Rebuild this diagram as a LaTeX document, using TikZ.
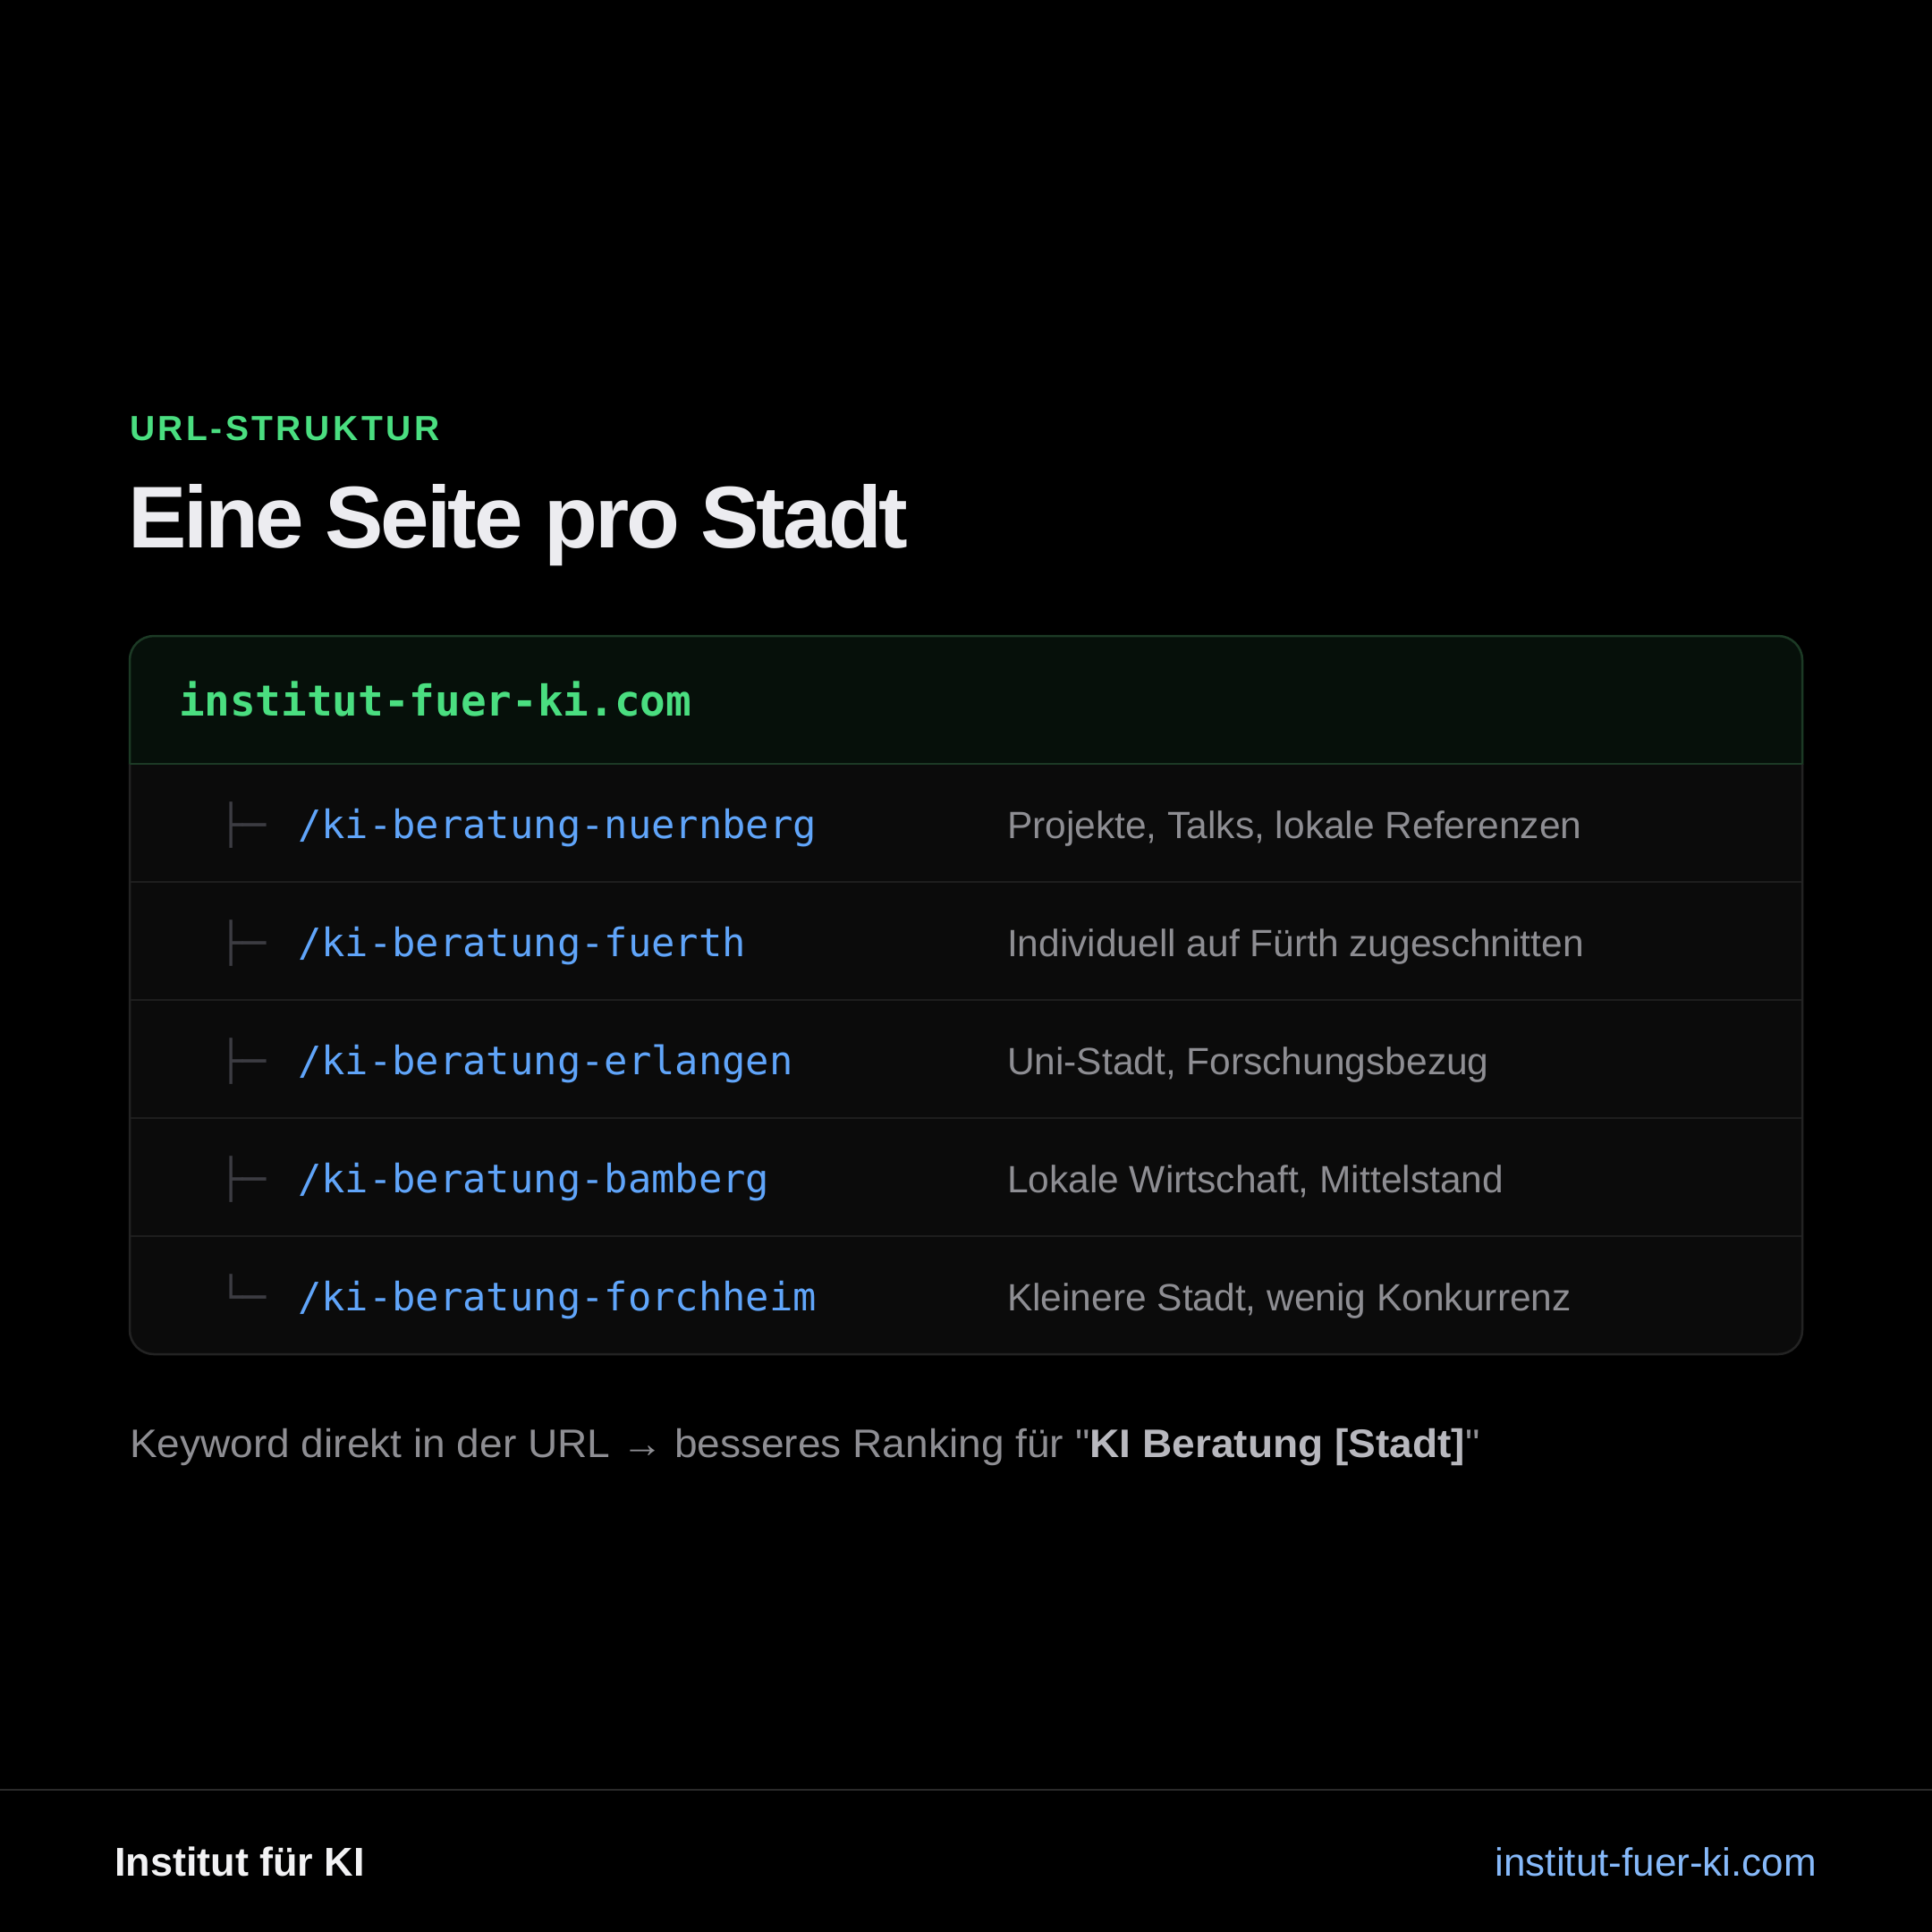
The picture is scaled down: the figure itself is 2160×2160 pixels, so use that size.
\documentclass[tikz,border=0pt]{standalone}
\usepackage{fontspec}
\setmainfont{Liberation Sans}
\newfontfamily\sansf{Liberation Sans}
\newfontfamily\notef[FakeStretch=1.035]{Liberation Sans}
\newfontfamily\monof{DejaVu Sans Mono}
\newfontfamily\titlef[LetterSpace=-3.4]{Liberation Sans}
\newfontfamily\kickerf[LetterSpace=9]{Liberation Sans}
\definecolor{pagebg}{HTML}{000000}
\definecolor{bodybg}{HTML}{0B0B0B}
\definecolor{headbg}{HTML}{06100A}
\definecolor{headborder}{HTML}{1C3A25}
\definecolor{bodyborder}{HTML}{232323}
\definecolor{rowline}{HTML}{1E1E1E}
\definecolor{kicker}{HTML}{4ADE80}
\definecolor{titlec}{HTML}{ECECF0}
\definecolor{urlblue}{HTML}{60A5FA}
\definecolor{treegray}{HTML}{3C3C42}
\definecolor{descgray}{HTML}{8E8E93}
\definecolor{notegray}{HTML}{8E8E93}
\definecolor{notebold}{HTML}{B8B8BE}
\definecolor{footwhite}{HTML}{F2F2F4}
\definecolor{footblue}{HTML}{86B9FA}
\definecolor{footline}{HTML}{2A2A2A}
\tikzset{
  txt/.style={inner sep=0pt, outer sep=0pt, anchor=base west},
  urltxt/.style={txt, text=urlblue, font=\monof\fontsize{43.8pt}{50pt}\selectfont},
  treetxt/.style={txt, text=treegray, font=\monof\fontsize{43.5pt}{50pt}\selectfont},
  desctxt/.style={txt, text=descgray, font=\sansf\fontsize{42.5pt}{50pt}\selectfont},
  rowsep/.style={draw=rowline, line width=2pt},
}
\begin{document}
\begin{tikzpicture}[x=1pt,y=-1pt]
\fill[pagebg] (0,0) rectangle (2160,2160);
\useasboundingbox (0,0) rectangle (2160,2160);
% kicker and title
\node[txt, text=kicker, font=\kickerf\bfseries\fontsize{39pt}{46pt}\selectfont] (kicker) at (145,492) {URL-STRUKTUR};
\node[txt, text=titlec, font=\titlef\bfseries\fontsize{98pt}{110pt}\selectfont] (title) at (143,612) {Eine Seite pro Stadt};
% box body
\fill[bodybg, rounded corners=27pt] (145,711) rectangle (2015,1514);
\begin{scope}
  \clip (100,700) rectangle (2060,854);
  \fill[headbg, rounded corners=27pt] (145,711) rectangle (2015,1514);
  \draw[headborder, line width=2.5pt, rounded corners=27pt] (145,711) rectangle (2015,1514);
\end{scope}
\begin{scope}
  \clip (100,854) rectangle (2060,1540);
  \draw[bodyborder, line width=2.5pt, rounded corners=27pt] (145,711) rectangle (2015,1514);
\end{scope}
\draw[headborder, line width=2.5pt] (145,854) -- (2015,854);
\foreach \yy in {986,1118,1250,1382} \draw[rowsep] (146,\yy) -- (2014,\yy);
% header domain
\node[txt, text=kicker, font=\monof\bfseries\fontsize{47.6pt}{54pt}\selectfont] (domain) at (200,800) {institut-fuer-ki.com};
% rows
\node[treetxt] (t1) at (245,937) {├─};
\node[urltxt] (u1) at (333,937) {/ki-beratung-nuernberg};
\node[desctxt] (d1) at (1126,937) {Projekte, Talks, lokale Referenzen};
\node[treetxt] (t2) at (245,1069) {├─};
\node[urltxt] (u2) at (333,1069) {/ki-beratung-fuerth};
\node[desctxt] (d2) at (1126,1069) {Individuell auf Fürth zugeschnitten};
\node[treetxt] (t3) at (245,1201) {├─};
\node[urltxt] (u3) at (333,1201) {/ki-beratung-erlangen};
\node[desctxt] (d3) at (1126,1201) {Uni-Stadt, Forschungsbezug};
\node[treetxt] (t4) at (245,1333) {├─};
\node[urltxt] (u4) at (333,1333) {/ki-beratung-bamberg};
\node[desctxt] (d4) at (1126,1333) {Lokale Wirtschaft, Mittelstand};
\node[treetxt] (t5) at (245,1465) {└─};
\node[urltxt] (u5) at (333,1465) {/ki-beratung-forchheim};
\node[desctxt] (d5) at (1126,1465) {Kleinere Stadt, wenig Konkurrenz};
% note
\node[txt, text=notegray, font=\notef\fontsize{44.5pt}{50pt}\selectfont] (note) at (145,1629)
  {Keyword direkt in der URL → besseres Ranking für "\textcolor{notebold}{\bfseries KI Beratung [Stadt]}"};
% footer
\draw[footline, line width=2.5pt] (0,2001) -- (2160,2001);
\node[txt, text=footwhite, font=\sansf\bfseries\fontsize{45pt}{50pt}\selectfont] (brand) at (128,2097) {Institut für KI};
\node[txt, anchor=base east, text=footblue, font=\sansf\fontsize{44pt}{50pt}\selectfont] (site) at (2031,2097) {institut-fuer-ki.com};
\end{tikzpicture}
\end{document}
